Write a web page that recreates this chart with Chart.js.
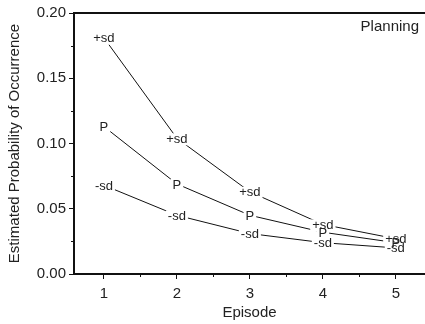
<!DOCTYPE html>
<html>
<head>
<meta charset="utf-8">
<script src="https://cdn.jsdelivr.net/npm/chart.js@4/dist/chart.umd.min.js"></script>
<style>
html,body{margin:0;padding:0;background:#fff;}
#wrap{width:425px;height:324px;}
</style>
</head>
<body>
<div id="wrap"><canvas id="c" width="425" height="324"></canvas></div>
<script>
const episodes = [1, 2, 3, 4, 5];
const plusSd  = [0.181, 0.104, 0.063, 0.038, 0.027];
const pMean   = [0.113, 0.069, 0.045, 0.032, 0.024];
const minusSd = [0.068, 0.045, 0.031, 0.024, 0.020];
const seriesMarkers = ['+sd', 'P', '-sd'];
const yMinorTicks = [0.025, 0.075, 0.125, 0.175];
const xMinorTicks = [1.5, 2.5, 3.5, 4.5];
const panelTitle = 'Planning';
const FONT = '"Liberation Sans", Arial, Helvetica, sans-serif';

function pts(vals){ return episodes.map((e,i)=>({x:e, y:vals[i]})); }

const markerPlugin = {
  id: 'markers',
  afterDatasetsDraw(chart){
    const ctx = chart.ctx;
    ctx.save();
    ctx.font = '13px ' + FONT;
    ctx.textAlign = 'center';
    ctx.textBaseline = 'middle';
    const items = [];
    chart.data.datasets.forEach((ds, di) => {
      const meta = chart.getDatasetMeta(di);
      meta.data.forEach(pt => {
        items.push({x: pt.x, y: pt.y + 1, t: ds.marker});
      });
    });
    ctx.fillStyle = '#fff';
    items.forEach(it => {
      const w = ctx.measureText(it.t).width;
      ctx.fillRect(it.x - w/2 - 2, it.y - 6, w + 4, 12);
    });
    ctx.fillStyle = '#222';
    items.forEach(it => ctx.fillText(it.t, it.x, it.y));
    // panel title
    ctx.font = '15px ' + FONT;
    ctx.textAlign = 'right';
    ctx.fillText(panelTitle, chart.chartArea.right - 6, chart.chartArea.top + 14);
    ctx.restore();
  },
  afterDraw(chart){
    const ctx = chart.ctx;
    const a = chart.chartArea;
    const xs = chart.scales.x, ys = chart.scales.y;
    ctx.save();
    ctx.strokeStyle = '#111';
    ctx.lineWidth = 2;
    ctx.beginPath();
    ctx.moveTo(a.left - 1, a.top);
    ctx.lineTo(a.right, a.top);
    ctx.stroke();
    ctx.lineWidth = 1;
    ctx.beginPath();
    yMinorTicks.forEach(v => {
      const y = Math.round(ys.getPixelForValue(v)) + 0.5;
      ctx.moveTo(a.left - 3, y); ctx.lineTo(a.left, y);
    });
    xMinorTicks.forEach(v => {
      const x = Math.round(xs.getPixelForValue(v)) + 0.5;
      ctx.moveTo(x, a.bottom); ctx.lineTo(x, a.bottom + 3);
    });
    ctx.stroke();
    ctx.restore();
  }
};

const mk = (label, vals, marker) => ({
  label, marker, data: pts(vals),
  borderColor: '#111', borderWidth: 1, pointRadius: 0, pointHoverRadius: 0,
  fill: false, tension: 0
});

new Chart(document.getElementById('c'), {
  type: 'line',
  data: { datasets: [
    mk('+sd', plusSd, seriesMarkers[0]),
    mk('P', pMean, seriesMarkers[1]),
    mk('-sd', minusSd, seriesMarkers[2])
  ]},
  options: {
    responsive: false,
    animation: false,
    events: [],
    layout: { padding: { top: 13, right: 0, left: 0, bottom: 0 } },
    plugins: { legend: { display: false }, tooltip: { enabled: false } },
    scales: {
      x: {
        type: 'linear', min: 0.59, max: 5.4,
        afterFit(s){ s.height = 50; },
        grid: { drawOnChartArea: false, tickLength: 5, tickColor: '#111', tickWidth: 1 },
        border: { display: true, color: '#111', width: 2 },
        ticks: { stepSize: 1, includeBounds: false, padding: 6, color: '#222',
                 font: { family: FONT, size: 15 }, maxRotation: 0,
                 callback: v => String(v) },
        title: { display: true, text: 'Episode', color: '#222',
                 font: { family: FONT, size: 15 }, padding: { top: 0, bottom: 2 } }
      },
      y: {
        type: 'linear', min: 0, max: 0.2,
        afterFit(s){ s.width = 74; },
        grid: { drawOnChartArea: false, tickLength: 5, tickColor: '#111', tickWidth: 1 },
        border: { display: true, color: '#111', width: 2 },
        ticks: { stepSize: 0.05, padding: 3, color: '#222',
                 font: { family: FONT, size: 15 },
                 callback: v => Number(v).toFixed(2) },
        title: { display: true, text: 'Estimated Probability of Occurrence', color: '#222',
                 font: { family: FONT, size: 15 }, padding: { top: 6, bottom: 0 } }
      }
    }
  },
  plugins: [markerPlugin]
});
</script>
</body>
</html>
